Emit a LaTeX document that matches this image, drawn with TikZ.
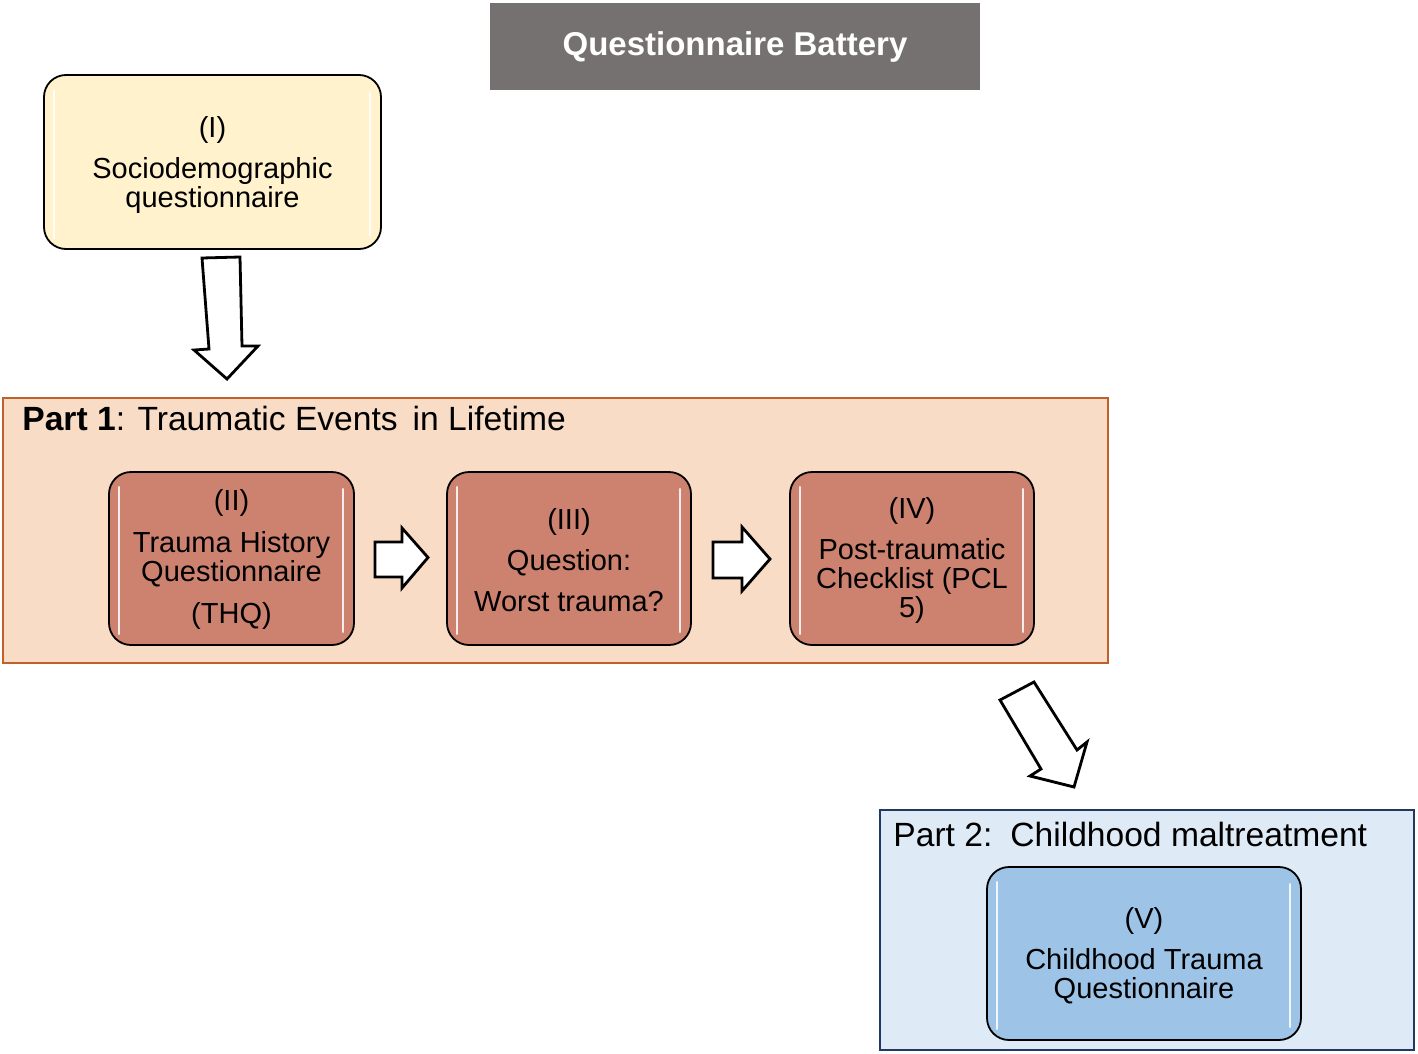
\documentclass[tikz,border=0pt]{standalone}
\usepackage{fontspec}
\setmainfont{Liberation Sans}
\definecolor{titlegray}{HTML}{757171}
\definecolor{sociofill}{HTML}{FFF2CC}
\definecolor{partAfill}{HTML}{F8DCC6}
\definecolor{partAborder}{HTML}{C0602A}
\definecolor{traumafill}{HTML}{CD8270}
\definecolor{partBfill}{HTML}{DEEAF6}
\definecolor{partBborder}{HTML}{1F3864}
\definecolor{ctqfill}{HTML}{9DC3E6}
\begin{document}
\begin{tikzpicture}[x=0.5pt,y=-0.5pt,
  boxtext/.style={font=\fontsize{14.5}{14.5}\selectfont, align=center, inner sep=0pt},
  inbox/.style={draw=black, line width=0.9pt, rounded corners=11pt, inner sep=0pt},
  hl/.style={draw=white, line width=1.3pt, opacity=0.85, line cap=round},
  blockarrow/.style={draw=black, fill=white, line width=1.4pt, line join=miter},
  parttitle/.style={font=\fontsize{16.8}{16.8}\selectfont, anchor=west, inner sep=0pt}
]
\useasboundingbox (0,0) rectangle (1418,1054);
\fill[white] (0,0) rectangle (1418,1054);

% title
\node[fill=titlegray, minimum width=245pt, minimum height=43.5pt, inner sep=0pt,
      text=white, font=\fontsize{16.5}{16.5}\selectfont\bfseries] (title) at (735,46.5) {Questionnaire Battery};

% (I)
\node[inbox, fill=sociofill, minimum width=168.5pt, minimum height=87pt] (b1) at (212.5,162) {};

% Part 1 frame
\node[draw=partAborder, fill=partAfill, line width=1pt, minimum width=552.5pt, minimum height=132.5pt, inner sep=0pt] (p1) at (555.5,530.5) {};
\node[parttitle] (p1t) at (22,418) {\textbf{Part 1}: Traumatic Events\, in Lifetime};

% Part 1 boxes
\node[inbox, fill=traumafill, minimum width=122.5pt, minimum height=86.5pt] (b2) at (231.5,558.5) {};
\node[inbox, fill=traumafill, minimum width=122pt, minimum height=86.5pt] (b3) at (569,558.5) {};
\node[inbox, fill=traumafill, minimum width=122pt, minimum height=86.5pt] (b4) at (912,558.5) {};

% Part 2 frame
\node[draw=partBborder, fill=partBfill, line width=1.1pt, minimum width=267pt, minimum height=120pt, inner sep=0pt] (p2) at (1147,930) {};
\node[parttitle] (p2t) at (893,834) {Part 2:\, Childhood maltreatment};
\node[inbox, fill=ctqfill, minimum width=157pt, minimum height=86.5pt] (b5) at (1144,953.5) {};

% highlights
\foreach \n in {b1,b2,b3,b4,b5}{
  \draw[hl] ([xshift=5.5pt,yshift=-8pt]\n.north west) -- ([xshift=5.5pt,yshift=6pt]\n.south west);
  \draw[hl] ([xshift=-6pt,yshift=-9pt]\n.north east) -- ([xshift=-6pt,yshift=7pt]\n.south east);
}

% box texts
\node[boxtext] (t1) at ([yshift=-1.3pt]b1.center) {(I)\\[6pt]Sociodemographic\\questionnaire};
\node[boxtext] (t2) at ([yshift=-0.4pt]b2.center) {(II)\\[6.5pt]Trauma History\\Questionnaire\\[6.5pt](THQ)};
\node[boxtext] (t3) at ([yshift=-0.9pt]b3.center) {(III)\\[6pt]Question:\\[6pt]Worst trauma?};
\node[boxtext] (t4) at ([yshift=-1pt]b4.center) {(IV)\\[6pt]Post-traumatic\\Checklist (PCL\\5)};
\node[boxtext] (t5) at ([yshift=-1pt]b5.center) {(V)\\[6pt]Childhood Trauma\\Questionnaire};

% block arrows
\draw[blockarrow] (202,258) -- (240,257) -- (242,346) -- (258,346) -- (227,379) -- (194,350) -- (209,349) -- cycle;
\draw[blockarrow] (375,542) -- (402,542) -- (402,528) -- (428,557.5) -- (402,588) -- (402,577) -- (375,577) -- cycle;
\draw[blockarrow] (713,542) -- (742,542) -- (742,527) -- (770,559) -- (742,591) -- (742,578) -- (713,578) -- cycle;
\draw[blockarrow] (1000,700) -- (1034,682) -- (1077,750) -- (1087,742) -- (1074,787) -- (1030,776) -- (1041,769) -- cycle;
\end{tikzpicture}
\end{document}
